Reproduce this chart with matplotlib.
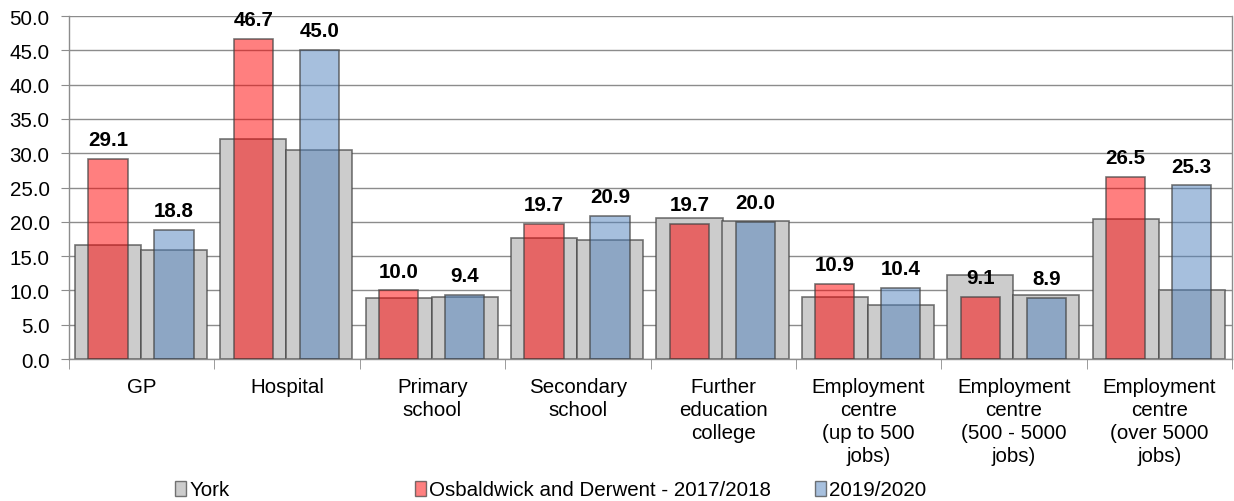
import matplotlib
matplotlib.use("Agg")
import matplotlib.pyplot as plt
from matplotlib.patches import Patch
import numpy as np

categories = ["GP", "Hospital", "Primary\nschool", "Secondary\nschool",
              "Further\neducation\ncollege", "Employment\ncentre\n(up to 500\njobs)",
              "Employment\ncentre\n(500 - 5000\njobs)", "Employment\ncentre\n(over 5000\njobs)"]
york_2017 = [16.6, 32.1, 8.9, 17.6, 20.6, 9.1, 12.3, 20.4]
york_2019 = [15.9, 30.4, 9.0, 17.4, 20.1, 7.8, 9.4, 10.1]
osb_2017 = [29.1, 46.7, 10.0, 19.7, 19.7, 10.9, 9.1, 26.5]
osb_2019 = [18.8, 45.0, 9.4, 20.9, 20.0, 10.4, 8.9, 25.3]
legend_labels = ["York", "Osbaldwick and Derwent - 2017/2018", "2019/2020"]

plt.rcParams['font.family'] = ['Liberation Sans', 'DejaVu Sans']
FS = 14.8

W, H = 1234, 502
fig = plt.figure(figsize=(W / 100, H / 100), dpi=100)
ax = fig.add_axes([69 / W, 1 - 360 / H, (1232 - 69) / W, 343 / H])

grey = '#cccccc'
red = (1.0, 0.0, 0.0, 0.5)
blue = (79 / 255, 129 / 255, 189 / 255, 0.5)
edge = (0.25, 0.25, 0.25, 0.7)

idx = np.arange(len(categories))
c1 = idx + 0.268
c2 = idx + 0.722
gw = 0.455
cw = 0.27

ax.bar(c1, york_2017, width=gw, color=grey, edgecolor=edge, linewidth=1.2, zorder=2)
ax.bar(c2, york_2019, width=gw, color=grey, edgecolor=edge, linewidth=1.2, zorder=2)
ax.bar(c1, osb_2017, width=cw, color=red, edgecolor=edge, linewidth=1.2, zorder=3)
ax.bar(c2, osb_2019, width=cw, color=blue, edgecolor=edge, linewidth=1.2, zorder=3)

for xs, vals in ((c1, osb_2017), (c2, osb_2019)):
    for x, v in zip(xs, vals):
        ax.annotate(f"{v:.1f}", (x, v), xytext=(0, 10), textcoords='offset points',
                    ha='center', va='baseline', fontsize=FS, fontweight='bold',
                    color='black', zorder=5)

ax.set_xlim(0, len(categories))
ax.set_ylim(0, 50)
ax.set_yticks(np.arange(0, 50.1, 5))
ax.set_yticklabels([f"{v:.1f}" for v in np.arange(0, 50.1, 5)], fontsize=FS)
ax.yaxis.grid(True, color='#8c8c8c', linewidth=1, zorder=0)
ax.set_axisbelow(True)

ax.set_xticks(idx + 0.5)
ax.set_xticklabels(categories, fontsize=FS, linespacing=1.26, va='top')
ax.set_xticks(np.arange(0, len(categories) + 1), minor=True)
ax.tick_params(axis='x', which='major', length=0, pad=13)
ax.tick_params(axis='x', which='minor', length=7, direction='out', color='#8c8c8c')
ax.tick_params(axis='y', length=6, direction='out', color='#8c8c8c', pad=8)

for s in ('left', 'bottom', 'right'):
    ax.spines[s].set_color('#8c8c8c')
    ax.spines[s].set_linewidth(1)
ax.spines['top'].set_visible(False)

handles = [Patch(facecolor=grey, edgecolor=edge),
           Patch(facecolor=(1, 0.5, 0.5), edgecolor=edge),
           Patch(facecolor=(167 / 255, 192 / 255, 222 / 255), edgecolor=edge)]
xpos = [175, 415, 815]
for h, lab, xp in zip(handles, legend_labels, xpos):
    fig.legend(handles=[h], labels=[lab], loc='center left',
               bbox_to_anchor=(xp / W, 1 - 491 / H), frameon=False,
               handlelength=0.55, handleheight=0.7, handletextpad=0.15,
               borderaxespad=0, borderpad=0, fontsize=FS)

fig.savefig("out.png", dpi=100)
